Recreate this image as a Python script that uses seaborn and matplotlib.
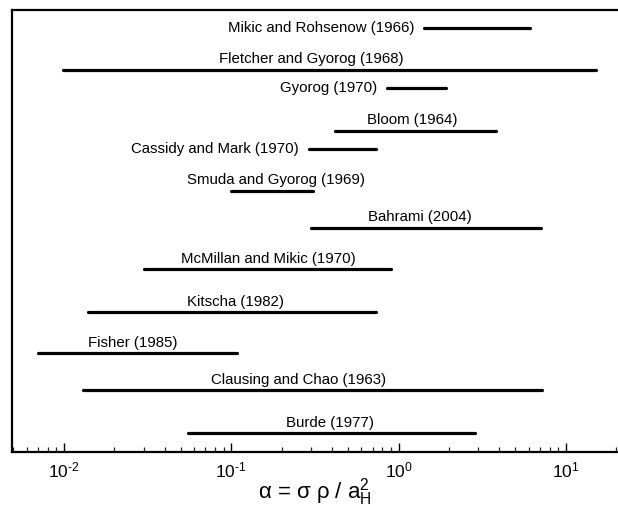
import matplotlib
matplotlib.use("Agg")
import matplotlib.pyplot as plt
import seaborn as sns
import pandas as pd
import numpy as np
from matplotlib.ticker import LogLocator, NullFormatter, FuncFormatter

# ---- data ----
studies = ["Mikic and Rohsenow (1966)", "Fletcher and Gyorog (1968)", "Gyorog (1970)",
           "Bloom (1964)", "Cassidy and Mark (1970)", "Smuda and Gyorog (1969)",
           "Bahrami (2004)", "McMillan and Mikic (1970)", "Kitscha (1982)",
           "Fisher (1985)", "Clausing and Chao (1963)", "Burde (1977)"]
alpha_min = [1.43, 0.0099, 0.85, 0.42, 0.29, 0.10, 0.30, 0.030, 0.0139, 0.0070, 0.013, 0.055]
alpha_max = [6.1, 15.1, 1.93, 3.85, 0.73, 0.31, 7.1, 0.90, 0.73, 0.108, 7.2, 2.87]
row_level = [425, 383, 365, 322, 304, 262, 225, 183, 140, 99, 62, 19]

# label placement (annotation layout, separate from values)
label_mode = ["left", "above", "left", "above", "left", "above",
              "above", "above", "above", "above", "above", "above"]
label_x = [None, 0.303, None, 1.2, None, 0.185, 1.34, 0.168, 0.106, 0.0258, 0.254, 0.389]

rows = []
for s, a0, a1, y in zip(studies, alpha_min, alpha_max, row_level):
    rows.append({"study": s, "alpha": a0, "level": y})
    rows.append({"study": s, "alpha": a1, "level": y})
df = pd.DataFrame(rows)

sns.set_theme(style="white")
plt.rcParams["font.family"] = ["Liberation Sans", "DejaVu Sans"]
plt.rcParams["mathtext.fontset"] = "custom"
plt.rcParams["mathtext.rm"] = "Liberation Sans"
plt.rcParams["mathtext.it"] = "Liberation Sans:italic"
plt.rcParams["axes.unicode_minus"] = False

fig = plt.figure(figsize=(6.18, 5.08), dpi=100)
ax = fig.add_axes([12 / 618, 56 / 508, 1 - 12 / 618, 442 / 508])

sns.lineplot(data=df, x="alpha", y="level", units="study", estimator=None,
             sort=False, color="black", linewidth=2.3, ax=ax, legend=False)

ax.set_xscale("log")
ax.set_xlim(0.0049, 20.5)
ax.set_ylim(0, 443)

for s, a0, y, mode, lx in zip(studies, alpha_min, row_level, label_mode, label_x):
    if mode == "left":
        ax.annotate(s, xy=(a0, y), xytext=(-7, 0), textcoords="offset points",
                    ha="right", va="center", fontsize=10.8, color="black")
    else:
        ax.annotate(s, xy=(lx, y), xytext=(0, 7.5), textcoords="offset points",
                    ha="center", va="center", fontsize=10.8, color="black")

for side in ["left", "top", "bottom"]:
    ax.spines[side].set_color("black")
    ax.spines[side].set_linewidth(1.6)
ax.spines["right"].set_visible(False)


def fmt(v, pos):
    e = int(round(np.log10(v)))
    if e < 0:
        return "$\\mathregular{10^{\\text{-}%d}}$" % (-e)
    return "$\\mathregular{10^{%d}}$" % e


ax.set_yticks([])
ax.set_ylabel("")
ax.xaxis.set_major_locator(LogLocator(base=10, numticks=10))
ax.xaxis.set_major_formatter(FuncFormatter(fmt))
ax.xaxis.set_minor_locator(LogLocator(base=10, subs=np.arange(2, 10), numticks=20))
ax.xaxis.set_minor_formatter(NullFormatter())
ax.tick_params(axis="x", which="major", direction="in", length=6.5, width=1.0,
               bottom=True, top=False, labelsize=12.5, pad=6, colors="black")
ax.tick_params(axis="x", which="minor", direction="in", length=3.8, width=0.9,
               bottom=True, top=False)
ax.set_xlabel("α = σ ρ / $\\mathregular{a_H^2}$", fontsize=16, labelpad=-3, color="black")

fig.savefig("out.png", dpi=100)
